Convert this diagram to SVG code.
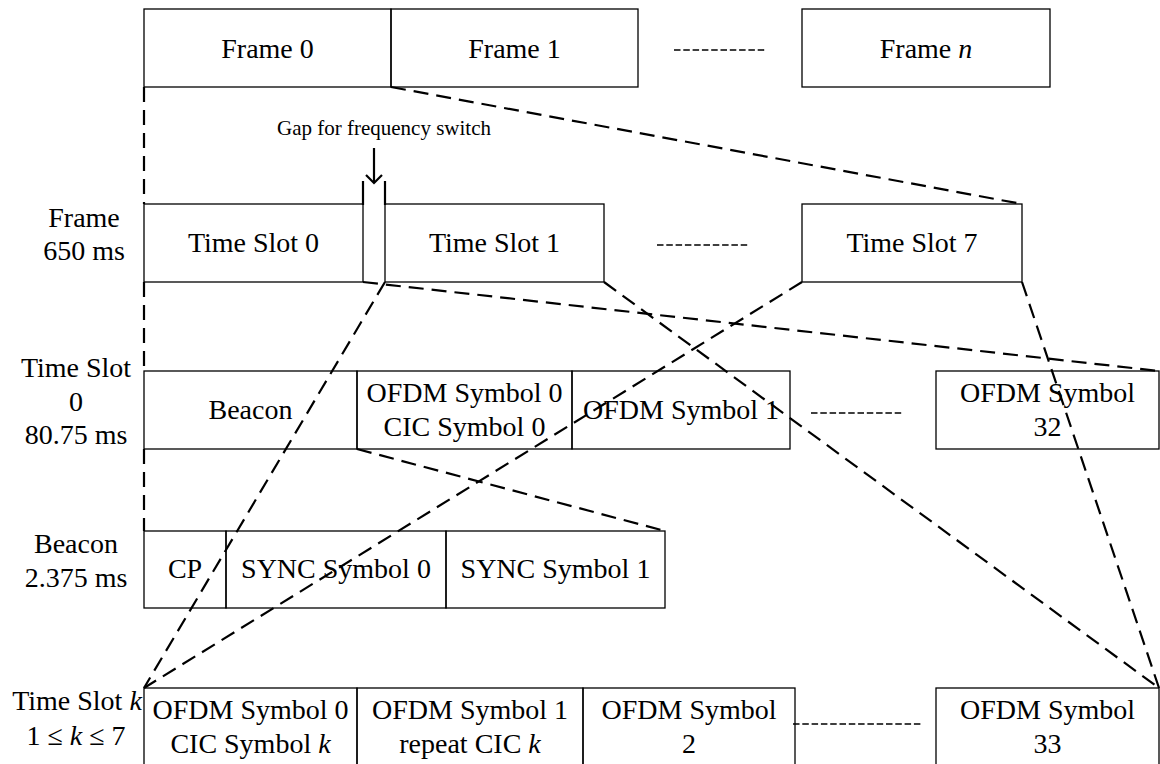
<svg xmlns="http://www.w3.org/2000/svg" width="1160" height="764" viewBox="0 0 1160 764">
  <style>
    text { font-family: 'Liberation Serif', 'Times New Roman', 'DejaVu Serif', serif; font-size: 28px; fill: #000; text-anchor: middle; }
    .small { font-size: 21px; }
    .box { fill: none; stroke: #000; stroke-width: 1.3; }
    .zoom { fill: none; stroke: #000; stroke-width: 2.2; stroke-dasharray: 15 8; }
    .ellipsis { fill: none; stroke: #000; stroke-width: 1.6; stroke-dasharray: 6.5 2.8; }
    .tick { fill: none; stroke: #000; stroke-width: 2.2; }
    tspan.it { font-style: italic; }
  </style>

  <g font-family="'Liberation Serif', 'Times New Roman', serif">
  <!-- row 1: frames -->
  <g id="frame-0">
    <rect class="box" x="144" y="9" width="247" height="78"/>
    <text x="267.5" y="57.5">Frame 0</text>
  </g>
  <g id="frame-1">
    <rect class="box" x="391" y="9" width="247" height="78"/>
    <text x="514.5" y="57.5">Frame 1</text>
  </g>
  <line id="frames-ellipsis" class="ellipsis" x1="674" y1="50" x2="766" y2="50"/>
  <g id="frame-n">
    <rect class="box" x="802" y="9" width="248" height="78"/>
    <text x="926" y="57.5">Frame <tspan class="it">n</tspan></text>
  </g>

  <!-- row 2: time slots of a frame -->
  <g id="label-frame">
    <text x="84" y="227">Frame</text>
    <text x="84" y="260">650 ms</text>
  </g>
  <g id="gap-note">
    <text class="small" x="384" y="135">Gap for frequency switch</text>
    <line class="tick" x1="374" y1="148" x2="374" y2="183"/>
    <polyline class="tick" points="366,175 374,183 382,175"/>
    <line class="tick" x1="363" y1="181" x2="363" y2="205"/>
    <line class="tick" x1="385" y1="181" x2="385" y2="205"/>
  </g>
  <g id="time-slot-0">
    <rect class="box" x="144" y="204" width="219" height="78"/>
    <text x="253.5" y="252">Time Slot 0</text>
  </g>
  <g id="time-slot-1">
    <rect class="box" x="385" y="204" width="219" height="78"/>
    <text x="494.5" y="252">Time Slot 1</text>
  </g>
  <line id="slots-ellipsis" class="ellipsis" x1="657" y1="245" x2="749" y2="245"/>
  <g id="time-slot-7">
    <rect class="box" x="802" y="204" width="220" height="78"/>
    <text x="912" y="252">Time Slot 7</text>
  </g>

  <!-- row 3: content of time slot 0 -->
  <g id="label-time-slot-0">
    <text x="76" y="377">Time Slot</text>
    <text x="76" y="411">0</text>
    <text x="76" y="444">80.75 ms</text>
  </g>
  <g id="ts0-beacon">
    <rect class="box" x="144" y="371" width="213" height="78"/>
    <text x="250.5" y="419">Beacon</text>
  </g>
  <g id="ts0-ofdm-0">
    <rect class="box" x="357" y="371" width="215" height="78"/>
    <text x="464.5" y="401.5">OFDM Symbol 0</text>
    <text x="464.5" y="436">CIC Symbol 0</text>
  </g>
  <g id="ts0-ofdm-1">
    <rect class="box" x="572" y="371" width="218" height="78"/>
    <text x="681" y="419">OFDM Symbol 1</text>
  </g>
  <line id="ts0-ellipsis" class="ellipsis" x1="811" y1="413" x2="903" y2="413"/>
  <g id="ts0-ofdm-32">
    <rect class="box" x="936" y="371" width="223" height="78"/>
    <text x="1047.5" y="401.5">OFDM Symbol</text>
    <text x="1047.5" y="436">32</text>
  </g>

  <!-- row 4: beacon structure -->
  <g id="label-beacon">
    <text x="76" y="553">Beacon</text>
    <text x="76" y="587">2.375 ms</text>
  </g>
  <g id="beacon-cp">
    <rect class="box" x="144" y="531" width="82" height="77"/>
    <text x="185" y="578">CP</text>
  </g>
  <g id="beacon-sync-0">
    <rect class="box" x="226" y="531" width="220" height="77"/>
    <text x="336" y="578">SYNC Symbol 0</text>
  </g>
  <g id="beacon-sync-1">
    <rect class="box" x="446" y="531" width="219" height="77"/>
    <text x="555.5" y="578">SYNC Symbol 1</text>
  </g>

  <!-- row 5: content of time slots 1..7 -->
  <g id="label-time-slot-k">
    <text x="77" y="710">Time Slot <tspan class="it">k</tspan></text>
    <text x="76" y="745">1 ≤ <tspan class="it">k</tspan> ≤ 7</text>
  </g>
  <g id="tsk-ofdm-0">
    <rect class="box" x="144" y="688" width="213" height="80"/>
    <text x="250.5" y="719">OFDM Symbol 0</text>
    <text x="250.5" y="753">CIC Symbol <tspan class="it">k</tspan></text>
  </g>
  <g id="tsk-ofdm-1">
    <rect class="box" x="357" y="688" width="226" height="80"/>
    <text x="470" y="719">OFDM Symbol 1</text>
    <text x="470" y="753">repeat CIC <tspan class="it">k</tspan></text>
  </g>
  <g id="tsk-ofdm-2">
    <rect class="box" x="583" y="688" width="212" height="80"/>
    <text x="689" y="719">OFDM Symbol</text>
    <text x="689" y="753">2</text>
  </g>
  <line id="tsk-ellipsis" class="ellipsis" x1="793" y1="724" x2="922" y2="724"/>
  <g id="tsk-ofdm-33">
    <rect class="box" x="936" y="688" width="223" height="80"/>
    <text x="1047.5" y="719">OFDM Symbol</text>
    <text x="1047.5" y="753">33</text>
  </g>
  </g>

  <!-- zoom-in connectors between levels, drawn over the boxes -->
  <g id="connectors">
    <!-- frame 0 expanded into time slots -->
    <line class="zoom" x1="144" y1="87" x2="144" y2="204"/>
    <line class="zoom" x1="391" y1="87" x2="1022" y2="204"/>
    <!-- time slot 0 expanded -->
    <line class="zoom" x1="144" y1="282" x2="144" y2="371"/>
    <line class="zoom" x1="363" y1="282" x2="1159" y2="371"/>
    <!-- time slots 1..7 expanded -->
    <line class="zoom" x1="385" y1="282" x2="144" y2="688"/>
    <line class="zoom" x1="604" y1="282" x2="1159" y2="688"/>
    <line class="zoom" x1="802" y1="282" x2="144" y2="688"/>
    <line class="zoom" x1="1022" y1="282" x2="1159" y2="688"/>
    <!-- beacon expanded -->
    <line class="zoom" x1="144" y1="449" x2="144" y2="531"/>
    <line class="zoom" x1="357" y1="449" x2="665" y2="531"/>
  </g>
</svg>
